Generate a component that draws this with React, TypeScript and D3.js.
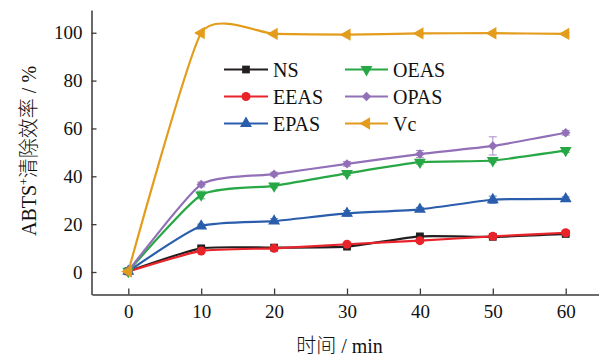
import React, { useEffect, useRef } from 'react';
import * as d3 from 'd3';

// sampling times (min)
const times = [0, 10, 20, 30, 40, 50, 60];
const xTicks = [0, 10, 20, 30, 40, 50, 60];
const yTicks = [0, 20, 40, 60, 80, 100];

// ABTS+ scavenging rate (%)
const nsValues = [0.3, 9.9, 10.2, 10.6, 14.9, 14.7, 15.9];
const eeasValues = [0.2, 8.8, 9.9, 11.6, 13.1, 14.9, 16.4];
const epasValues = [0.3, 19.2, 21.3, 24.5, 26.2, 30.2, 30.6];
const oeasValues = [0.3, 32.2, 36.0, 41.2, 45.9, 46.6, 50.8];
const opasValues = [0.4, 36.6, 40.9, 45.2, 49.3, 52.7, 58.2];
const vcValues = [0.2, 99.9, 99.5, 99.2, 99.7, 99.8, 99.5];

// standard deviations (error bars)
const nsErr = [0.5, 0.8, 0.6, 0.6, 0.6, 0.6, 0.6];
const eeasErr = [0.5, 0.6, 0.6, 0.6, 0.6, 0.6, 0.8];
const epasErr = [0.5, 0.8, 1.0, 1.2, 0.8, 1.5, 0.8];
const oeasErr = [0.5, 1.6, 0.8, 0.8, 0.8, 0.8, 0.8];
const opasErr = [0.5, 1.0, 0.8, 1.0, 1.5, 3.8, 1.0];
const vcErr = [0.5, 0.5, 0.5, 0.5, 0.5, 0.5, 0.5];

const seriesNames = ['NS', 'EEAS', 'EPAS', 'OEAS', 'OPAS', 'Vc'];
const seriesValues = [nsValues, eeasValues, epasValues, oeasValues, opasValues, vcValues];
const seriesErrors = [nsErr, eeasErr, epasErr, oeasErr, opasErr, vcErr];
const seriesColors = ['#231f20', '#e8232a', '#2a5eac', '#28a745', '#9270b8', '#e39c1c'];

const FONT = '"Liberation Serif", "Times New Roman", "Noto Sans CJK SC", serif';

function markerPath(i: number): { d: string; rotate: number } {
  const s = d3.symbol();
  if (i === 0) return { d: s.type(d3.symbolSquare).size(60)() as string, rotate: 0 };
  if (i === 1) return { d: s.type(d3.symbolCircle).size(64)() as string, rotate: 0 };
  if (i === 2) return { d: s.type(d3.symbolTriangle).size(62)() as string, rotate: 0 };
  if (i === 3) return { d: s.type(d3.symbolTriangle).size(62)() as string, rotate: 180 };
  if (i === 4) return { d: s.type(d3.symbolSquare).size(44)() as string, rotate: 45 };
  return { d: s.type(d3.symbolTriangle).size(66)() as string, rotate: -90 };
}

function Chart() {
  const ref = useRef<SVGSVGElement>(null);

  useEffect(() => {
    document.body.style.margin = '0';
    const svg = d3.select(ref.current);
    svg.selectAll('*').remove();

    const x = d3.scaleLinear().domain([-5, 64.5]).range([91.85, 598.5]);
    const y = d3.scaleLinear().domain([-9.4, 109.5]).range([294.5, 10]);

    const line = d3
      .line<number>()
      .x((_, i) => x(times[i]))
      .y((d) => y(d))
      .curve(d3.curveCardinal.tension(0.45));

    // axes
    const yAxis = svg
      .append('g')
      .attr('transform', 'translate(91.5,0)')
      .call(d3.axisLeft(y).tickValues(yTicks).tickSizeInner(-5).tickSizeOuter(0).tickPadding(9));
    const xAxis = svg
      .append('g')
      .attr('transform', 'translate(0,294.5)')
      .call(d3.axisBottom(x).tickValues(xTicks).tickSizeInner(-6).tickSizeOuter(0).tickPadding(10));

    [yAxis, xAxis].forEach((g) => {
      g.select('.domain').attr('stroke', '#3a3a3a').attr('stroke-width', 1.5);
      g.selectAll('.tick line').attr('stroke', '#3a3a3a').attr('stroke-width', 1.3);
      g.selectAll('.tick text')
        .attr('fill', '#111')
        .style('font-family', FONT)
        .style('font-size', '19px');
    });

    // series
    seriesValues.forEach((vals, i) => {
      const color = seriesColors[i];
      const g = svg.append('g');
      g.append('path')
        .attr('d', line(vals))
        .attr('fill', 'none')
        .attr('stroke', color)
        .attr('stroke-width', 2.2);

      const errs = seriesErrors[i];
      g.selectAll('.err')
        .data(vals)
        .enter()
        .append('path')
        .attr('d', (d, j) => {
          const cx = x(times[j]);
          const y1 = y(d + errs[j]);
          const y2 = y(d - errs[j]);
          return `M${cx - 4},${y1}H${cx + 4}M${cx},${y1}V${y2}M${cx - 4},${y2}H${cx + 4}`;
        })
        .attr('stroke', color)
        .attr('stroke-width', 1)
        .attr('fill', 'none')
        .attr('opacity', 0.8);

      const m = markerPath(i);
      g.selectAll('.pt')
        .data(vals)
        .enter()
        .append('path')
        .attr('d', m.d)
        .attr('transform', (d, j) => `translate(${x(times[j])},${y(d)}) rotate(${m.rotate})`)
        .attr('fill', color);
    });

    // legend
    const legendCols = [
      { x1: 224, x2: 268, tx: 273 },
      { x1: 345, x2: 388, tx: 393 },
    ];
    const legendRows = [69.5, 96.5, 123.5];
    seriesNames.forEach((name, i) => {
      const col = legendCols[Math.floor(i / 3)];
      const ly = legendRows[i % 3];
      const g = svg.append('g');
      g.append('line')
        .attr('x1', col.x1)
        .attr('x2', col.x2)
        .attr('y1', ly)
        .attr('y2', ly)
        .attr('stroke', seriesColors[i])
        .attr('stroke-width', 2.2);
      const m = markerPath(i);
      g.append('path')
        .attr('d', m.d)
        .attr('transform', `translate(${(col.x1 + col.x2) / 2},${ly}) rotate(${m.rotate})`)
        .attr('fill', seriesColors[i]);
      g.append('text')
        .attr('x', col.tx)
        .attr('y', ly + 7)
        .style('font-family', FONT)
        .style('font-size', '20px')
        .attr('fill', '#111')
        .text(name);
    });

    // axis titles
    const xt = svg
      .append('text')
      .attr('x', 339.5)
      .attr('y', 353)
      .attr('text-anchor', 'middle')
      .style('font-family', FONT)
      .style('font-size', '20px')
      .attr('fill', '#111');
    xt.append('tspan').style('font-weight', 300).text('时间');
    xt.append('tspan').text(' / min');

    const yt = svg
      .append('text')
      .attr('transform', 'translate(36,151) rotate(-90)')
      .attr('text-anchor', 'middle')
      .style('font-family', FONT)
      .style('font-size', '20px')
      .attr('fill', '#111');
    yt.append('tspan').text('ABTS');
    yt.append('tspan').attr('dy', -8).style('font-size', '12px').text('+');
    yt.append('tspan').attr('dy', 8).style('font-weight', 300).text('清除效率');
    yt.append('tspan').text(' / %');
  }, []);

  return <svg ref={ref} width={600} height={360} style={{ display: 'block' }} />;
}

export default function App() {
  return <Chart />;
}
